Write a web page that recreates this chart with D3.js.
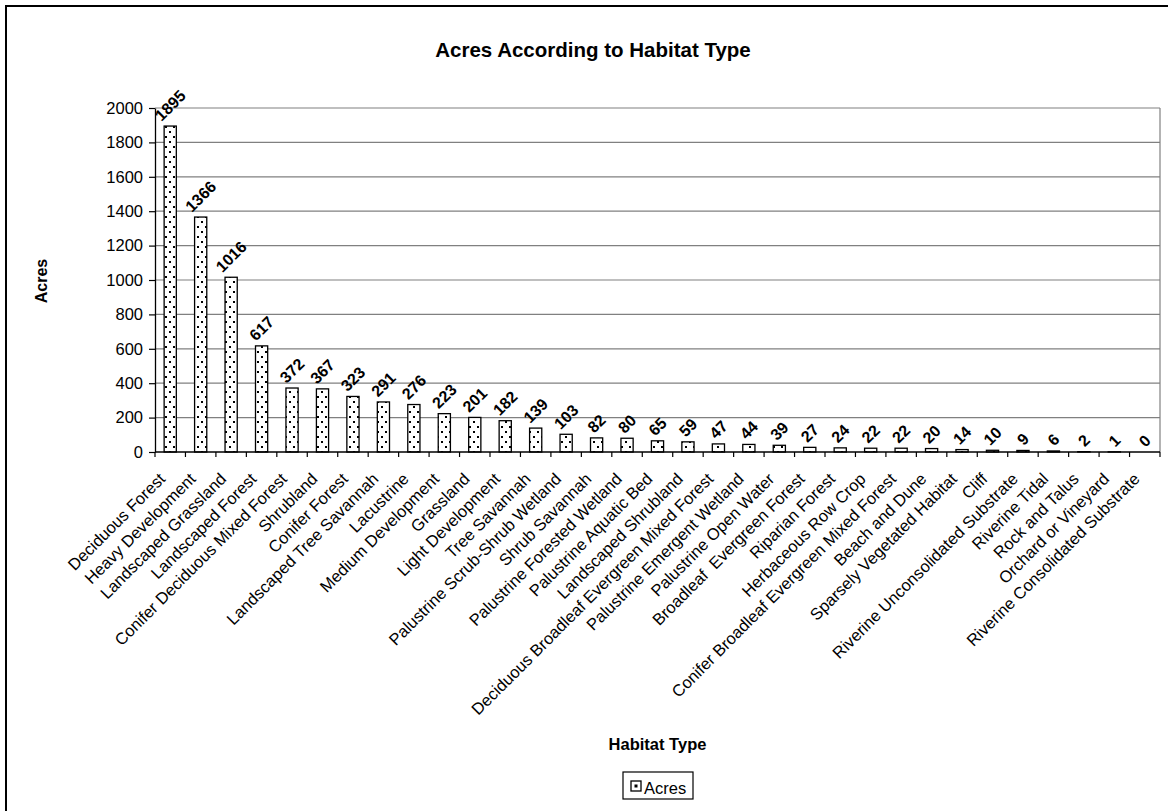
<!DOCTYPE html>
<html>
<head>
<meta charset="utf-8">
<script src="https://cdn.jsdelivr.net/npm/d3@7"></script>
<style>
  html, body { margin: 0; padding: 0; background: #fff; }
  svg { display: block; font-family: "Liberation Sans", Arial, sans-serif; }
  .xlab { white-space: pre; }
</style>
</head>
<body>
<svg id="chart" width="1168" height="811"></svg>
<script>
// Habitat types and their acreage
const categories = [
  "Deciduous Forest", "Heavy Development", "Landscaped Grassland", "Landscaped Forest",
  "Conifer Deciduous Mixed Forest", "Shrubland", "Conifer Forest", "Landscaped Tree Savannah",
  "Lacustrine", "Medium Development", "Grassland", "Light Development", "Tree Savannah",
  "Palustrine Scrub-Shrub Wetland", "Shrub Savannah", "Palustrine Forested Wetland",
  "Palustrine Aquatic Bed", "Landscaped Shrubland", "Deciduous Broadleaf Evergreen Mixed Forest",
  "Palustrine Emergent Wetland", "Palustrine Open Water", "Broadleaf  Evergreen Forest",
  "Riparian Forest", "Herbaceous Row Crop", "Conifer Broadleaf Evergreen Mixed Forest",
  "Beach and Dune", "Sparsely Vegetated Habitat", "Cliff", "Riverine Unconsolidated Substrate",
  "Riverine Tidal", "Rock and Talus", "Orchard or Vineyard", "Riverine Consolidated Substrate"
];
const acres = [
  1895, 1366, 1016, 617, 372, 367, 323, 291, 276, 223, 201, 182, 139, 103, 82, 80,
  65, 59, 47, 44, 39, 27, 24, 22, 22, 20, 14, 10, 9, 6, 2, 1, 0
];
const yTicks = [0, 200, 400, 600, 800, 1000, 1200, 1400, 1600, 1800, 2000];
const seriesName = "Acres";
const chartTitle = "Acres According to Habitat Type";
const xTitle = "Habitat Type";
const yTitle = "Acres";

const data = categories.map((c, i) => ({ name: c, value: acres[i] }));

const svg = d3.select("#chart");
const plot = { left: 155, right: 1160, top: 108, bottom: 452 };

// dotted fill for the bars
const defs = svg.append("defs");
const pat = defs.append("pattern")
  .attr("id", "dots")
  .attr("patternUnits", "userSpaceOnUse")
  .attr("width", 8).attr("height", 10);
pat.append("rect").attr("width", 8).attr("height", 10).attr("fill", "#fff");
pat.append("rect").attr("x", 1).attr("y", 1).attr("width", 2).attr("height", 2).attr("fill", "#000");
pat.append("rect").attr("x", 5).attr("y", 6).attr("width", 2).attr("height", 2).attr("fill", "#000");

// chart frame
svg.append("rect")
  .attr("x", 6).attr("y", 6).attr("width", 1200).attr("height", 840)
  .attr("fill", "#fff").attr("stroke", "#000").attr("stroke-width", 2);

const x = d3.scaleBand()
  .domain(categories)
  .range([plot.left, plot.right])
  .paddingInner(0.6)
  .paddingOuter(0.3);

const y = d3.scaleLinear()
  .domain([0, 2000])
  .range([plot.bottom, plot.top]);

// gridlines
svg.append("g")
  .selectAll("line")
  .data(yTicks.filter(v => v > 0))
  .join("line")
  .attr("x1", plot.left).attr("x2", plot.right)
  .attr("y1", d => y(d)).attr("y2", d => y(d))
  .attr("stroke", "#808080").attr("stroke-width", 1.2);

// right border of plot area
svg.append("line")
  .attr("x1", plot.right).attr("x2", plot.right)
  .attr("y1", plot.top).attr("y2", plot.bottom)
  .attr("stroke", "#808080").attr("stroke-width", 1.2);

// bars
svg.append("g")
  .selectAll("rect")
  .data(data)
  .join("rect")
  .attr("x", d => x(d.name))
  .attr("width", x.bandwidth())
  .attr("y", d => y(d.value))
  .attr("height", d => y(0) - y(d.value))
  .attr("fill", "url(#dots)")
  .attr("stroke", "#000")
  .attr("stroke-width", 1.3);

// y axis
const yAxis = svg.append("g")
  .attr("transform", `translate(${plot.left},0)`)
  .call(d3.axisLeft(y).tickValues(yTicks).tickSize(6).tickSizeOuter(0).tickPadding(6).tickFormat(d3.format("d")));
yAxis.select(".domain").attr("stroke", "#000").attr("stroke-width", 1.3);
yAxis.selectAll(".tick line").attr("stroke", "#000").attr("stroke-width", 1.2);
yAxis.selectAll(".tick text")
  .attr("font-family", "Liberation Sans, Arial, sans-serif")
  .attr("font-size", 16.5).attr("fill", "#000");

// x axis line and category-boundary ticks
svg.append("line")
  .attr("x1", plot.left).attr("x2", plot.right)
  .attr("y1", plot.bottom).attr("y2", plot.bottom)
  .attr("stroke", "#000").attr("stroke-width", 1.3);
svg.append("g")
  .selectAll("line")
  .data(d3.range(categories.length + 1))
  .join("line")
  .attr("x1", i => plot.left + i * x.step())
  .attr("x2", i => plot.left + i * x.step())
  .attr("y1", plot.bottom).attr("y2", plot.bottom + 5)
  .attr("stroke", "#000").attr("stroke-width", 1.2);

// category labels
svg.append("g")
  .selectAll("text")
  .data(data)
  .join("text")
  .attr("class", "xlab")
  .attr("transform", d => `translate(${x(d.name) + x.bandwidth() / 2 - 4},480) rotate(-45)`)
  .attr("text-anchor", "end")
  .attr("font-size", 16.5)
  .attr("fill", "#000")
  .text(d => d.name);

// value labels above bars
const vl = svg.append("g")
  .selectAll("text")
  .data(data)
  .join("text")
  .attr("text-anchor", "middle")
  .attr("dy", "0.35em")
  .attr("font-size", 16)
  .attr("font-weight", "bold")
  .attr("fill", "#000")
  .text(d => d.value);
vl.attr("transform", function (d) {
  const w = this.getComputedTextLength();
  const h = 11.5;
  const half = (w + h) / (2 * Math.SQRT2);
  const cx = x(d.name) + x.bandwidth() / 2;
  return `translate(${cx},${y(d.value) - 4 - half}) rotate(-45)`;
});

// titles
svg.append("text")
  .attr("x", 593).attr("y", 57)
  .attr("text-anchor", "middle")
  .attr("font-size", 20.5).attr("font-weight", "bold")
  .text(chartTitle);

svg.append("text")
  .attr("transform", "translate(47,281) rotate(-90)")
  .attr("text-anchor", "middle")
  .attr("font-size", 16).attr("font-weight", "bold")
  .text(yTitle);

svg.append("text")
  .attr("x", (plot.left + plot.right) / 2).attr("y", 750)
  .attr("text-anchor", "middle")
  .attr("font-size", 16.5).attr("font-weight", "bold")
  .text(xTitle);

// legend
const lg = svg.append("g").attr("transform", "translate(623,772)");
lg.append("rect")
  .attr("width", 70).attr("height", 27)
  .attr("fill", "#fff").attr("stroke", "#000").attr("stroke-width", 1.2);
lg.append("rect")
  .attr("x", 8).attr("y", 9).attr("width", 10).attr("height", 10)
  .attr("fill", "#fff").attr("stroke", "#000").attr("stroke-width", 1.3);
lg.append("rect")
  .attr("x", 11.5).attr("y", 12.5).attr("width", 3).attr("height", 3)
  .attr("fill", "#000");
lg.append("text")
  .attr("x", 21).attr("y", 22)
  .attr("font-size", 16.5)
  .text(seriesName);
</script>
</body>
</html>
